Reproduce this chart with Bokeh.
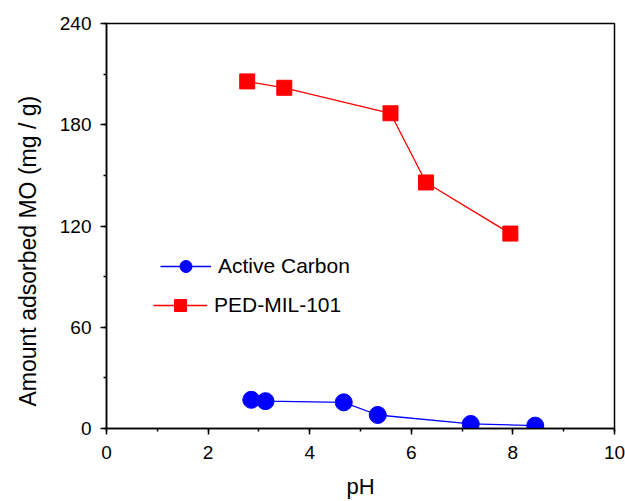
from bokeh.plotting import figure
from bokeh.models import (Range1d, SingleIntervalTicker, Legend, LegendItem, Title)
from bokeh.embed import file_html
from bokeh.resources import INLINE

# Adsorption of methyl orange versus solution pH
ac_ph = [2.85, 3.13, 4.67, 5.34, 7.17, 8.44]
ac_amount = [17.0, 16.2, 15.5, 8.0, 2.7, 1.7]

mil_ph = [2.77, 3.50, 5.59, 6.29, 7.95]
mil_amount = [205.7, 201.9, 186.8, 145.8, 115.5]

x_ticks_interval = 2
y_ticks_interval = 60

FONT = "Liberation Sans"

p = figure(width=625, height=501, output_backend="svg", toolbar_location=None,
           x_range=Range1d(0, 10), y_range=Range1d(0, 240),
           min_border_left=106, min_border_right=11,
           min_border_top=23, min_border_bottom=72)

p.background_fill_color = "white"
p.border_fill_color = "white"
p.outline_line_color = "black"
p.outline_line_width = 1.5
p.xgrid.visible = False
p.ygrid.visible = False

p.xaxis.ticker = SingleIntervalTicker(interval=x_ticks_interval, num_minor_ticks=2)
p.yaxis.ticker = SingleIntervalTicker(interval=y_ticks_interval, num_minor_ticks=2)

for ax in (p.xaxis[0], p.yaxis[0]):
    ax.axis_line_color = "black"
    ax.axis_line_width = 1.5
    ax.major_tick_line_color = "black"
    ax.major_tick_line_width = 1.5
    ax.minor_tick_line_color = "black"
    ax.minor_tick_line_width = 1.5
    ax.major_tick_out = 6
    ax.major_tick_in = 0
    ax.minor_tick_out = 3
    ax.minor_tick_in = 0
    ax.major_label_text_font = FONT
    ax.major_label_text_font_size = "19px"
    ax.major_label_text_color = "black"

p.xaxis.major_label_standoff = 11
p.yaxis.major_label_standoff = 9

p.xaxis.axis_label = "pH"
p.xaxis.axis_label_text_font = FONT
p.xaxis.axis_label_text_font_size = "22px"
p.xaxis.axis_label_text_font_style = "normal"
p.xaxis.axis_label_text_color = "black"
p.xaxis.axis_label_standoff = 12

# y-axis title starts a little above the frame's bottom edge
ytitle = Title(text="Amount adsorbed MO (mg / g)", align="left", offset=22,
               standoff=28, vertical_align="top", text_font=FONT,
               text_font_size="23px", text_font_style="normal",
               text_color="black")
p.add_layout(ytitle, "left")

# Active carbon series
l1 = p.line(ac_ph, ac_amount, line_color="#0000FF", line_width=1.3)
m1 = p.scatter(ac_ph, ac_amount, marker="circle", size=17,
               fill_color="#0000FF", line_color="#0000FF")

# PED-MIL-101 series
l2 = p.line(mil_ph, mil_amount, line_color="#FF0000", line_width=1.3)
m2 = p.scatter(mil_ph, mil_amount, marker="square", size=15,
               fill_color="#FF0000", line_color="#FF0000")


def make_legend(label, renderers, loc, gw):
    lg = Legend(items=[LegendItem(label=label, renderers=renderers)],
                location=loc, orientation="vertical",
                glyph_width=gw, glyph_height=30, label_height=30,
                label_standoff=7, padding=0, margin=0, spacing=0,
                border_line_color=None, background_fill_alpha=0,
                label_text_font=FONT, label_text_font_size="21px",
                label_text_color="black")
    return lg


p.add_layout(make_legend("Active Carbon", [l1, m1], (54, 147), 51))
p.add_layout(make_legend("PED-MIL-101", [l2, m2], (47, 108), 54))

open("out.html", "w").write(file_html(p, INLINE))
